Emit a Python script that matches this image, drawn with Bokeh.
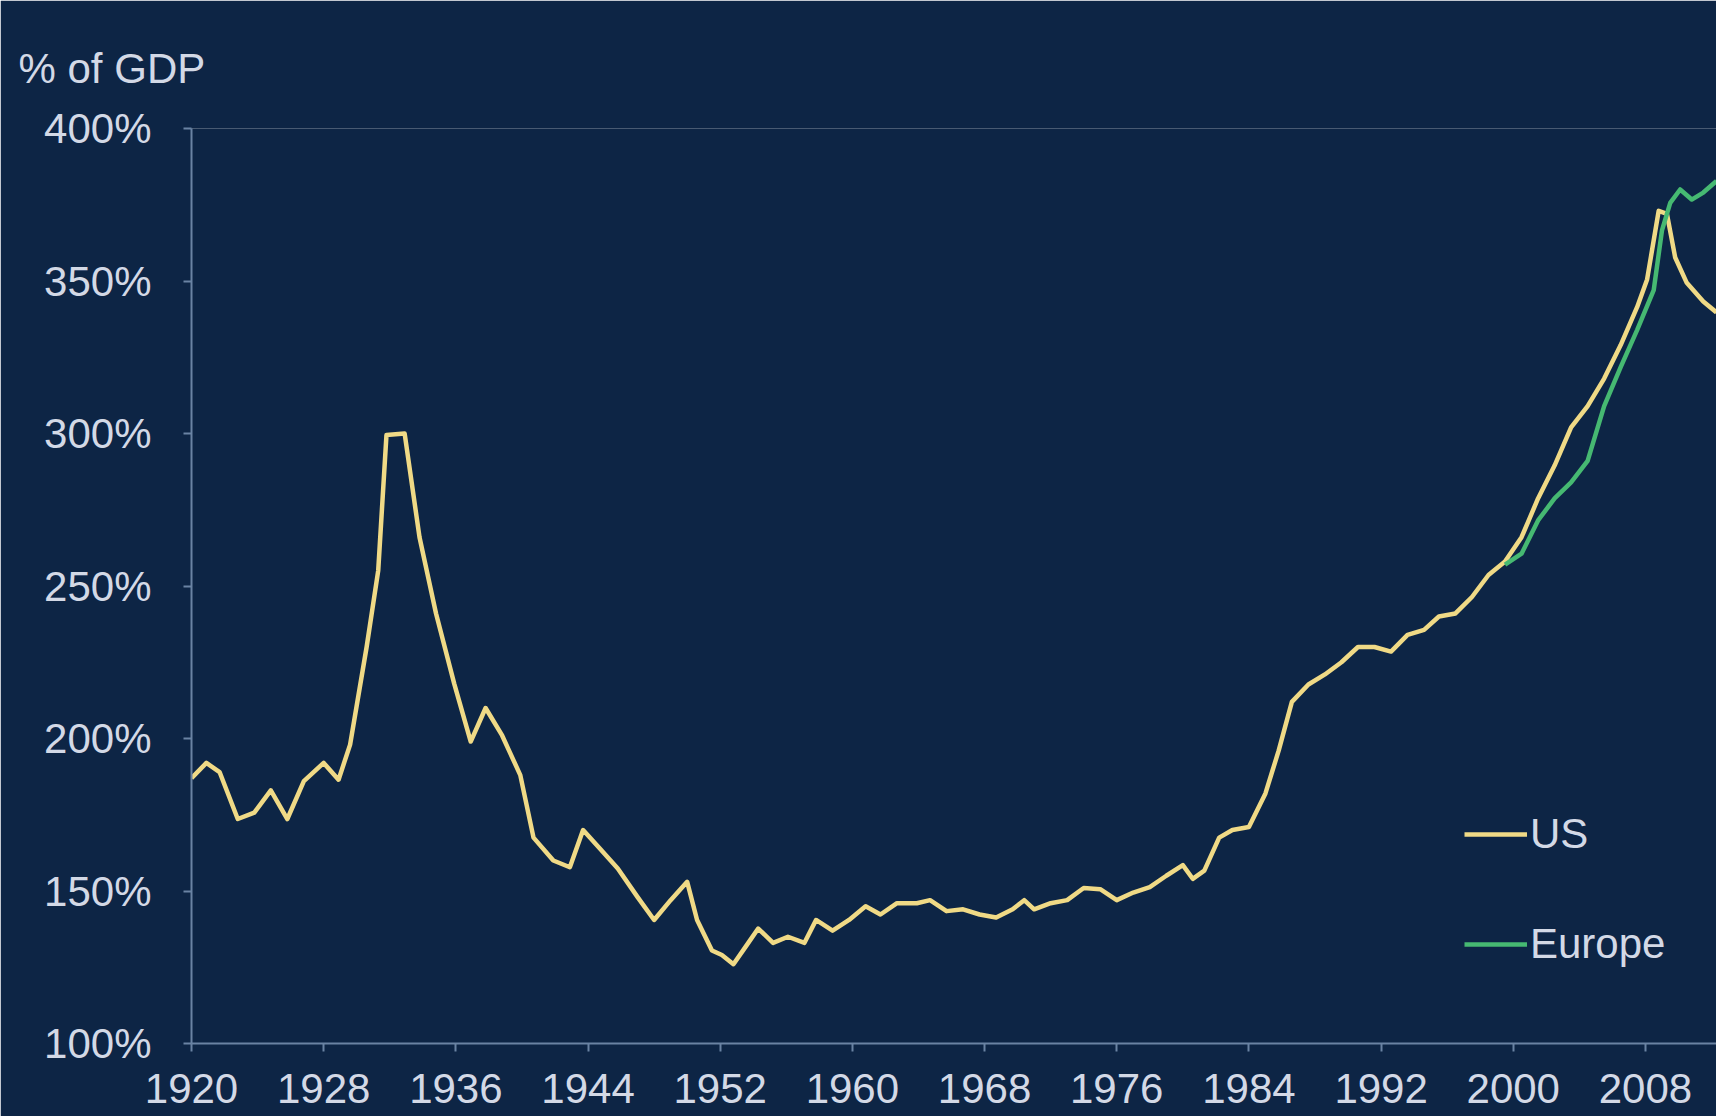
from bokeh.plotting import figure
from bokeh.models import Range1d, FixedTicker, Legend, LegendItem
from bokeh.embed import file_html
from bokeh.resources import INLINE

# ---- data ----
us_years = [1920.0, 1920.9, 1921.7, 1922.8, 1923.8, 1924.8, 1925.8, 1926.8, 1928.0, 1928.9,
            1929.6, 1930.6, 1931.3, 1931.8, 1932.9, 1933.8, 1934.8, 1935.9, 1936.9, 1937.8,
            1938.8, 1939.9, 1940.7, 1941.9, 1942.9, 1943.7, 1944.7, 1945.8, 1947.0, 1948.0,
            1949.0, 1950.0, 1950.6, 1951.5, 1952.1, 1952.8, 1953.7, 1954.3, 1955.2, 1956.1,
            1957.1, 1957.8, 1958.8, 1959.8, 1960.8, 1961.7, 1962.7, 1963.9, 1964.7, 1965.7,
            1966.7, 1967.7, 1968.7, 1969.7, 1970.4, 1971.0, 1972.0, 1973.0, 1974.0, 1975.0,
            1976.0, 1977.0, 1978.0, 1979.0, 1980.0, 1980.6, 1981.3, 1982.2, 1983.0, 1984.0,
            1985.0, 1985.8, 1986.6, 1987.6, 1988.6, 1989.6, 1990.6, 1991.6, 1992.6, 1993.6,
            1994.6, 1995.5, 1996.5, 1997.5, 1998.5, 1999.5, 2000.5, 2001.5, 2002.5, 2003.5,
            2004.5, 2005.5, 2006.5, 2007.5, 2008.1, 2008.8, 2009.3, 2009.8, 2010.5, 2011.5,
            2012.3]
us_values = [187, 192, 189, 173.6, 175.7, 183, 173.6, 186, 192, 186.5,
             198, 230, 255, 299.5, 300, 266, 241, 218, 199, 210,
             201, 188, 167.5, 160, 157.8, 170, 164, 157.4, 148, 140.5,
             147, 153, 140.5, 130.5, 129, 126, 133, 137.7, 133, 135,
             133, 140.5, 137, 140.5, 145, 142.3, 146, 146, 147, 143.4,
             144, 142.3, 141.3, 144, 147, 144, 146, 147, 151, 150.6,
             147, 149.5, 151.3, 155, 158.5, 154, 156.7, 167.5, 170, 171,
             182, 196, 212, 217.7, 221, 225, 230, 230, 228.5, 234,
             235.6, 240, 241, 246.4, 253.6, 258, 266, 278.7, 289.5, 302,
             309, 318, 329, 341.5, 350.5, 373, 372, 357.7, 349.4, 343.3,
             339.7]

eu_years = [1999.5, 2000.5, 2001.5, 2002.5, 2003.5, 2004.5, 2005.5, 2006.5, 2007.5, 2008.5,
            2009.0, 2009.5, 2010.1, 2010.8, 2011.5, 2012.3]
eu_values = [257, 260.6, 271.5, 278.7, 284, 291, 309, 321.8, 334, 347,
             366.6, 375.6, 380, 376.7, 379, 382.8]

x_ticks = [1920, 1928, 1936, 1944, 1952, 1960, 1968, 1976, 1984, 1992, 2000, 2008]
y_ticks = [100, 150, 200, 250, 300, 350, 400]
y_tick_labels = ["100%", "150%", "200%", "250%", "300%", "350%", "400%"]
series_names = ["US", "Europe"]
title_text = "% of GDP"

# ---- style ----
BG = "#0d2545"
US_COLOR = "#f0da86"
EU_COLOR = "#46b972"
AXIS_COLOR = "#6a83a3"
TEXT_COLOR = "#d3d9e6"
FONT = "Liberation Sans"
FS = "42px"

p = figure(width=1716, height=1116, output_backend="svg", toolbar_location=None,
           x_range=Range1d(1920, 2012.3), y_range=Range1d(100, 400),
           min_border_left=191, min_border_right=0, min_border_top=128, min_border_bottom=73)
p.background_fill_color = BG
p.border_fill_color = BG
p.outline_line_color = None
p.grid.visible = False

p.title.text = title_text
p.title.align = "left"
p.title.vertical_align = "top"
p.title.offset = -173
p.title.standoff = 70
p.title.text_color = TEXT_COLOR
p.title.text_font = FONT
p.title.text_font_size = FS
p.title.text_font_style = "normal"

for ax in (p.xaxis[0], p.yaxis[0]):
    ax.axis_line_color = AXIS_COLOR
    ax.axis_line_width = 2
    ax.major_tick_line_color = AXIS_COLOR
    ax.major_tick_line_width = 2
    ax.major_tick_in = 0
    ax.major_tick_out = 8
    ax.minor_tick_line_color = None
    ax.major_label_text_color = TEXT_COLOR
    ax.major_label_text_font = FONT
    ax.major_label_text_font_size = FS

p.xaxis.ticker = FixedTicker(ticks=x_ticks)
p.xaxis.major_label_standoff = 22
p.yaxis.ticker = FixedTicker(ticks=y_ticks)
p.yaxis.major_label_overrides = {t: l for t, l in zip(y_ticks, y_tick_labels)}
p.yaxis.major_label_standoff = 32

r_us = p.line(us_years, us_values, line_color=US_COLOR, line_width=4.5, line_join="round")
r_eu = p.line(eu_years, eu_values, line_color=EU_COLOR, line_width=4.5, line_join="round")

legend = Legend(items=[LegendItem(label=series_names[0], renderers=[r_us]),
                       LegendItem(label=series_names[1], renderers=[r_eu])],
                location=(1273, 75), background_fill_alpha=0, border_line_color=None,
                padding=0, margin=0, spacing=62, glyph_width=63, glyph_height=48,
                label_height=48, label_standoff=3,
                label_text_color=TEXT_COLOR, label_text_font=FONT, label_text_font_size=FS)
p.add_layout(legend, "center")

open("out.html", "w").write(file_html(p, INLINE))
